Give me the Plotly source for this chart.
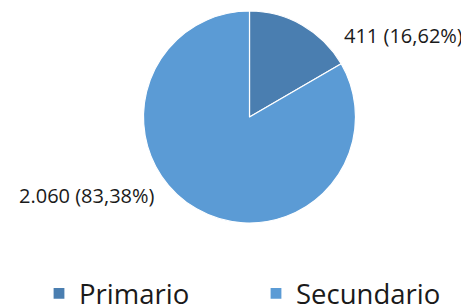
import plotly.graph_objects as go

categories = ["Primario", "Secundario"]
values = [411, 2060]
value_labels = ["411", "2.060"]
pct_labels = ["16,62%", "83,38%"]
colors = ["#4A7EB0", "#5B9BD5"]

W, H = 469, 305
OFF = 8  # page body margin offset
FONT = "Open Sans"

def px(x):
    return (x - OFF) / W

def py(y):
    return 1 - (y - OFF) / H

fig = go.Figure()
fig.add_trace(go.Pie(
    labels=categories,
    values=values,
    sort=False,
    direction="clockwise",
    rotation=0,
    textinfo="none",
    hoverinfo="label+value+percent",
    marker=dict(colors=colors, line=dict(color="#FFFFFF", width=1.2)),
    domain=dict(x=[px(143.5), px(355.5)], y=[py(223), py(11)]),
))

label_pos = [(342, 36, "left"), (157, 195, "right")]
for (x, y, anchor), v, p in zip(label_pos, value_labels, pct_labels):
    fig.add_annotation(
        x=px(x), y=py(y), xref="paper", yref="paper",
        xanchor=anchor, yanchor="middle",
        text=f"{v} ({p})", showarrow=False,
        font=dict(family=FONT, size=20, color="#1a1a1a"),
    )

fig.update_layout(
    width=W, height=H,
    margin=dict(l=0, r=0, t=0, b=0, autoexpand=False),
    paper_bgcolor="white",
    plot_bgcolor="white",
    showlegend=True,
    legend=dict(
        orientation="h",
        x=31 / W, xanchor="left",
        y=-5 / H, yanchor="bottom",
        font=dict(family=FONT, size=27.5, color="#1a1a1a"),
        entrywidth=172, entrywidthmode="pixels",
        itemclick=False, itemdoubleclick=False,
        bgcolor="rgba(0,0,0,0)",
    ),
)

fig.write_html("out.html")
